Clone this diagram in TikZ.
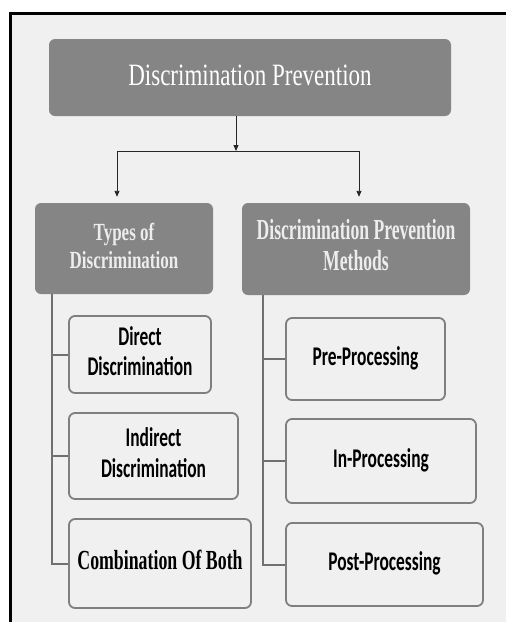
\documentclass[tikz,border=0pt]{standalone}
\usepackage{fontspec}
\usepackage{graphicx}
\newfontfamily\tms{Liberation Serif}
\newfontfamily\calb{Carlito}
\usetikzlibrary{arrows.meta}
\definecolor{bg}{HTML}{F0F0F0}
\definecolor{boxgray}{HTML}{858585}
\definecolor{edgegray}{HTML}{7F7F7F}
\definecolor{linegray}{HTML}{707070}
\definecolor{headtext}{HTML}{EDEDED}
\newcommand{\vstretch}[2]{\scalebox{1}[#1]{\begin{tabular}{@{}c@{}}#2\end{tabular}}}
\begin{document}
\begin{tikzpicture}[x=1pt,y=-1pt,
  titlebox/.style={fill=boxgray, rounded corners=6pt, inner sep=0pt, text=white},
  headbox/.style={fill=boxgray, rounded corners=6pt, inner sep=0pt, text=headtext},
  leafbox/.style={draw=edgegray, line width=1.8pt, fill=bg, rounded corners=6pt, inner sep=0pt, text=black},
  treeline/.style={draw=linegray, line width=2pt},
  arrowline/.style={draw=black!85, line width=0.9pt, -{Triangle[length=6pt,width=5pt]}},
]
\useasboundingbox (0,0) rectangle (506,622);
\clip (0,0) rectangle (506,622);
\fill[white] (0,0) rectangle (506,622);
\draw[line width=3pt, fill=bg] (10.5,13.5) rectangle (540,660);

% title
\node[titlebox, minimum width=402pt, minimum height=77pt] (title) at (250,77.5)
  {\tms\fontsize{23}{28}\selectfont\vstretch{1.35}{Discrimination Prevention}};

% headers
\node[headbox, minimum width=178pt, minimum height=91pt] (types) at (124,248.5)
  {\tms\bfseries\fontsize{17}{19.3}\selectfont\vstretch{1.45}{Types of\\Discrimination}};
\node[headbox, minimum width=228pt, minimum height=92pt] (methods) at (356,249)
  {\tms\bfseries\fontsize{17.6}{18.2}\selectfont\vstretch{1.65}{Discrimination Prevention\\Methods}};

% left leaves
\node[leafbox, minimum width=142pt, minimum height=77pt] (direct) at (140,354.5)
  {\calb\bfseries\fontsize{17.4}{19.5}\selectfont\vstretch{1.55}{Direct\\Discrimination}};
\node[leafbox, minimum width=169pt, minimum height=86pt] (indirect) at (153.5,456)
  {\calb\bfseries\fontsize{17.4}{19.5}\selectfont\vstretch{1.55}{Indirect\\Discrimination}};
\node[leafbox, minimum width=182pt, minimum height=89pt] (combo) at (160,563.5)
  {\tms\bfseries\fontsize{17.8}{20}\selectfont\vstretch{1.55}{Combination Of Both}};

% right leaves
\node[leafbox, minimum width=159pt, minimum height=82pt] (pre) at (365.5,359)
  {\calb\bfseries\fontsize{17.4}{20}\selectfont\vstretch{1.55}{Pre-Processing}};
\node[leafbox, minimum width=190pt, minimum height=84pt] (inproc) at (381,461)
  {\calb\bfseries\fontsize{17.4}{20}\selectfont\vstretch{1.55}{In-Processing}};
\node[leafbox, minimum width=197pt, minimum height=83pt] (post) at (384.5,564.5)
  {\calb\bfseries\fontsize{17.4}{20}\selectfont\vstretch{1.55}{Post-Processing}};

% arrows
\coordinate (split) at (236,151);
\draw[arrowline] (split |- title.south) -- (split);
\draw[arrowline] (split) -| ([shift={(-7,-6)}]types.north);
\draw[arrowline] (split) -| ([shift={(3,-6)}]methods.north);

% tree lines
\coordinate (trunkL) at ([xshift=17pt]types.south west);
\coordinate (trunkR) at ([xshift=21pt]methods.south west);
\draw[treeline] (trunkL) |- (combo.west);
\draw[treeline] (direct.west) -- (direct.west -| trunkL);
\draw[treeline] (indirect.west) -- (indirect.west -| trunkL);
\draw[treeline] (trunkR) |- (post.west);
\draw[treeline] (pre.west) -- (pre.west -| trunkR);
\draw[treeline] (inproc.west) -- (inproc.west -| trunkR);
\end{tikzpicture}
\end{document}
